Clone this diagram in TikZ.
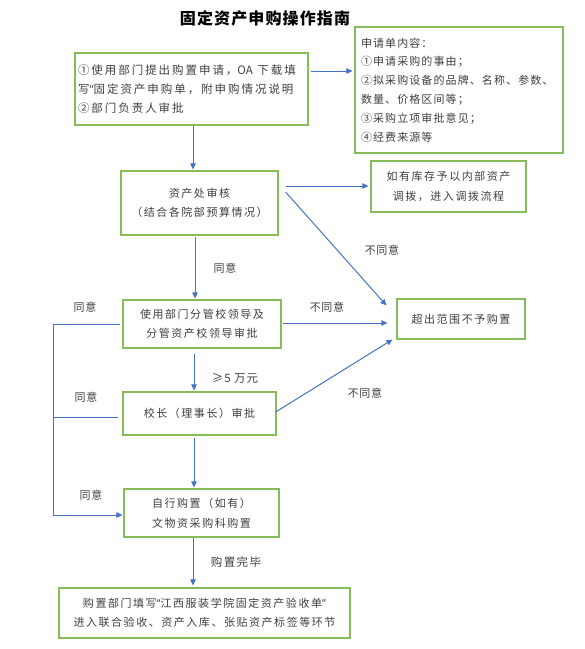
\documentclass[tikz,border=0pt]{standalone}
\usepackage{fontspec}
\setmainfont{Noto Sans CJK SC}
\newfontfamily\latinq{Noto Sans}
\newcommand{\myLQ}{{\latinq “}}
\newcommand{\myRQ}{{\latinq ”}}
\usetikzlibrary{arrows.meta,calc}
\definecolor{boxgreen}{RGB}{134,188,88}
\definecolor{arrblue}{RGB}{68,114,196}
\definecolor{txt}{RGB}{64,64,64}
\begin{document}
\begin{tikzpicture}[x=1pt,y=-1pt,
  box/.style={draw=boxgreen,line width=1.2pt,inner sep=0pt,text=txt,
    font=\fontsize{11}{19.5}\selectfont\addfontfeatures{LetterSpace=14},align=center},
  arr/.style={draw=arrblue,line width=1pt,-{Triangle[length=6pt,width=5.5pt]}},
  ln/.style={draw=arrblue,line width=1pt},
  lbl/.style={text=txt,font=\fontsize{11}{12}\selectfont\addfontfeatures{LetterSpace=6},inner sep=0pt}]
\useasboundingbox (0,0) rectangle (585,649);
\fill[white] (0,0) rectangle (585,649);

% title
\node[font=\fontsize{16}{18}\selectfont\bfseries\addfontfeatures{LetterSpace=7},inner sep=0pt] (title) at (265,18) {固定资产申购操作指南};

% boxes
\node[box,minimum width=233pt,minimum height=72pt] (b1) at (191.5,89)
  {\begin{minipage}{227pt}\raggedright\fontsize{11.5}{19}\selectfont\addfontfeatures{LetterSpace=17}①使用部门提出购置申请，{\addfontfeatures{LetterSpace=0}OA} 下载填\\写\myLQ 固定资产申购单，附申购情况说明\\②部门负责人审批\end{minipage}};
\node[box,minimum width=208pt,minimum height=126pt] (b2) at (459,90)
  {\begin{minipage}{196pt}\raggedright\fontsize{11}{18.8}\selectfont\addfontfeatures{LetterSpace=10}申请单内容：\\①申请采购的事由；\\②拟采购设备的品牌、名称、参数、\\数量、价格区间等；\\③采购立项审批意见；\\④经费来源等\end{minipage}};
\node[box,minimum width=157pt,minimum height=64pt] (b3) at (199.5,203)
  {资产处审核\\（结合各院部预算情况）};
\node[box,minimum width=155pt,minimum height=51pt] (b4) at (448.5,186.5)
  {如有库存予以内部资产\\调拨，进入调拨流程};
\node[box,minimum width=128pt,minimum height=40pt] (b5) at (461,319)
  {超出范围不予购置};
\node[box,minimum width=158pt,minimum height=48pt] (b6) at (202,324)
  {使用部门分管校领导及\\分管资产校领导审批};
\node[box,minimum width=153pt,minimum height=43pt] (b7) at (199.5,413.5)
  {\raisebox{-4pt}{校长（理事长）审批}};
\node[box,minimum width=155pt,minimum height=48pt] (b8) at (201.5,513)
  {自行购置（如有）\\文物资采购科购置};
\node[box,minimum width=291pt,minimum height=50pt] (b9) at (204.5,613)
  {购置部门填写\myLQ 江西服装学院固定资产验收单\myRQ\\进入联合验收、资产入库、张贴资产标签等环节};

% connectors
\draw[arr,shorten <=2pt,shorten >=2pt] (b1.east|-0,71) -- (b2.west|-0,71);
\draw[arr,shorten >=1pt] (b1.south-|193,0) -- (b3.north-|193,0);
\draw[arr,shorten <=7pt,shorten >=2pt] (b3.east|-0,186) -- (b4.west|-0,186);
\draw[arr] ($(b3.east|-0,192)+(7,0)$) -- ($(b5.north west)+(-10,7)$);
\draw[arr,shorten <=1pt,shorten >=1pt] (b3.south-|195,0) -- (b6.north-|195,0);
\draw[arr,shorten <=1pt,shorten >=9pt] (b6.east|-0,323) -- (b5.west|-0,323);
\draw[arr,shorten <=5pt,shorten >=1pt] (b6.south-|194,0) -- (b7.north-|194,0);
\draw[arr] ($(b7.east|-0,412)+(-1,0)$) -- ($(b5.south west)+(-4,0)$);
\draw[arr,shorten <=2pt,shorten >=1pt] (b7.south-|194,0) -- (b8.north-|194,0);
\draw[arr,shorten >=2pt] (b8.south-|193,0) -- (b9.north-|193,0);
% left "agree" bypass
\draw[arr,shorten >=1pt] ($(b6.west)+(-2,0)$) -- ++(-67,0) |- (b8.west|-0,515);
\draw[ln] ($(b7.west|-0,417)+(-4,0)$) -- ++(-65,0);

% labels
\node[lbl] (l1) at (382,250) {不同意};
\node[lbl] (l2) at (225,268) {同意};
\node[lbl] (l3) at (327,307) {不同意};
\node[lbl] (l4) at (365,393) {不同意};
\node[lbl] (l5) at (85,307) {同意};
\node[lbl] (l6) at (86,397) {同意};
\node[lbl] (l7) at (91,495) {同意};
\node[lbl,font=\fontsize{11.5}{12}\selectfont\addfontfeatures{LetterSpace=8}] (l8) at (235,378) {≥5 万元};
\node[lbl,font=\fontsize{11.5}{12}\selectfont\addfontfeatures{LetterSpace=12}] (l9) at (236,562) {购置完毕};
\end{tikzpicture}
\end{document}
